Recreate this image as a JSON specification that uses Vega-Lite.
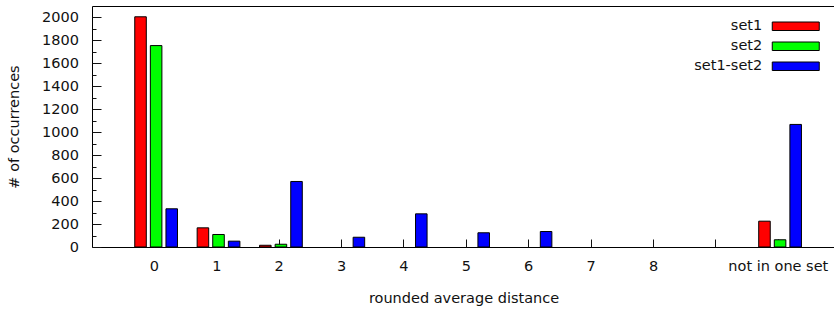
{
  "$schema": "https://vega.github.io/schema/vega-lite/v6.json",
  "width": 743,
  "height": 241,
  "padding": {"left": 6, "top": 6, "right": 0, "bottom": 3},
  "background": "white",
  "config": {
    "view": {"stroke": "black", "strokeWidth": 1},
    "font": "DejaVu Sans",
    "axis": {
      "labelFont": "DejaVu Sans",
      "titleFont": "DejaVu Sans",
      "labelFontSize": 14.5,
      "titleFontSize": 14.5,
      "titleFontWeight": "normal",
      "labelColor": "#111",
      "titleColor": "#111",
      "tickColor": "#111",
      "tickWidth": 1,
      "domain": false,
      "grid": false
    },
    "legend": {"labelFont": "DejaVu Sans"}
  },
  "data": {
    "values": [
      {"cat": "0", "series": "set1", "count": 2006},
      {"cat": "0", "series": "set2", "count": 1755},
      {"cat": "0", "series": "set1-set2", "count": 333},
      {"cat": "1", "series": "set1", "count": 167},
      {"cat": "1", "series": "set2", "count": 109},
      {"cat": "1", "series": "set1-set2", "count": 51},
      {"cat": "2", "series": "set1", "count": 15},
      {"cat": "2", "series": "set2", "count": 24},
      {"cat": "2", "series": "set1-set2", "count": 571},
      {"cat": "3", "series": "set1-set2", "count": 85},
      {"cat": "4", "series": "set1-set2", "count": 289},
      {"cat": "5", "series": "set1-set2", "count": 124},
      {"cat": "6", "series": "set1-set2", "count": 135},
      {"cat": "10", "series": "set1", "count": 225},
      {"cat": "10", "series": "set2", "count": 63},
      {"cat": "10", "series": "set1-set2", "count": 1068}
    ]
  },
  "mark": {"type": "bar", "stroke": "black", "strokeWidth": 1},
  "encoding": {
    "x": {
      "field": "cat",
      "type": "nominal",
      "sort": null,
      "scale": {
        "domain": ["0", "1", "2", "3", "4", "5", "6", "7", "8", "9", "10"],
        "paddingInner": 0,
        "paddingOuter": 0.454,
        "align": 0.55
      },
      "axis": {
        "title": "rounded average distance",
        "labelAngle": 0,
        "tickSize": -8,
        "labelPadding": 20,
        "titlePadding": 19,
        "labelExpr": "datum.value == '9' ? '' : (datum.value == '10' ? 'not in one set' : datum.label)"
      }
    },
    "xOffset": {
      "field": "series",
      "type": "nominal",
      "sort": null,
      "scale": {
        "domain": ["set1", "set2", "set1-set2"],
        "paddingInner": 0.26,
        "paddingOuter": 0.63,
        "align": 0.59
      }
    },
    "y": {
      "field": "count",
      "type": "quantitative",
      "scale": {"domain": [0, 2100], "nice": false, "zero": true},
      "axis": {
        "title": "# of occurrences",
        "values": [0, 100, 200, 300, 400, 500, 600, 700, 800, 900, 1000, 1100, 1200, 1300, 1400, 1500, 1600, 1700, 1800, 1900, 2000],
        "format": "d",
        "labelExpr": "datum.value % 200 === 0 ? datum.label : ''",
        "tickSize": {"condition": {"test": "datum.value % 200 === 0", "value": -9}, "value": -4},
        "labelPadding": 22.5,
        "titlePadding": 20
      }
    },
    "color": {
      "field": "series",
      "type": "nominal",
      "sort": null,
      "scale": {"domain": ["set1", "set2", "set1-set2"], "range": ["#ff0000", "#00ff00", "#0000ff"]},
      "legend": {
        "title": null,
        "orient": "top-right",
        "offset": 13,
        "padding": 0,
        "symbolType": "M80,-4.25L127,-4.25L127,4.25L80,4.25Z",
        "symbolSize": 4,
        "symbolStrokeColor": "black",
        "symbolStrokeWidth": 1,
        "symbolOpacity": 1,
        "labelAlign": "right",
        "labelOffset": 62.75,
        "rowPadding": 5,
        "labelFontSize": 14.5,
        "labelColor": "#111"
      }
    }
  }
}
